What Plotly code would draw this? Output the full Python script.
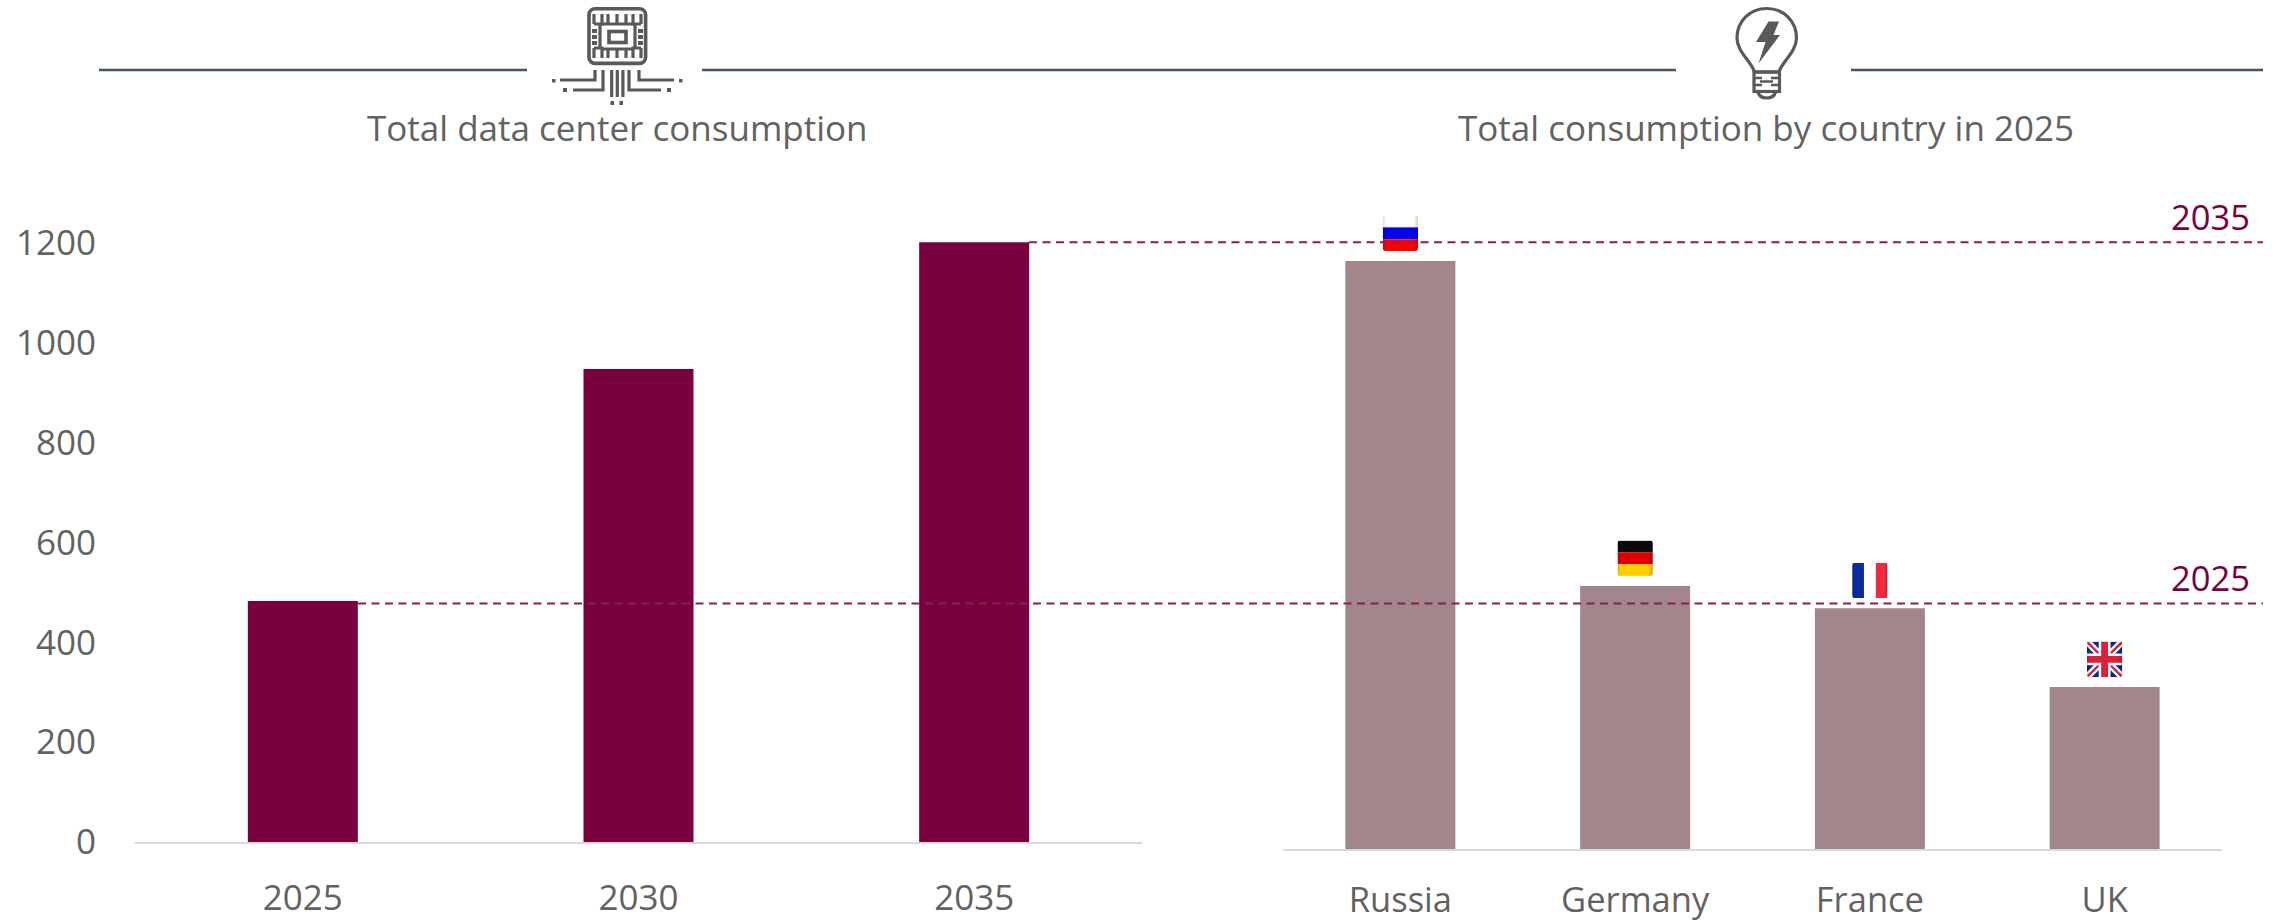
import base64
import plotly.graph_objects as go

# ---- data ----
years = ["2025", "2030", "2035"]
dc_values = [483, 948, 1202]
countries = ["Russia", "Germany", "France", "UK"]
country_values = [1162, 520, 476, 320]
y_ticks = [0, 200, 400, 600, 800, 1000, 1200]
guide_years = ["2025", "2035"]
guide_values = [478, 1202]
title_left = "Total data center consumption"
title_right = "Total consumption by country in 2025"

# ---- style ----
W, H = 2280, 922
FONT = "Open Sans"
TEXT = "#626262"
MAROON = "#78003C"
MUTED = "#A3858C"
DASH = "#8A1F58"
HEAD = "#44546A"
AXIS = "#D9D9D9"
WEIGHT = 400


def uri(svg):
    return "data:image/svg+xml;base64," + base64.b64encode(svg.encode()).decode()


def px(x):
    return x / W


def py(y):
    return 1 - y / H


CHIP = f'''<svg xmlns="http://www.w3.org/2000/svg" viewBox="0 0 170 110" width="510" height="330">
<g fill="none" stroke="#595959" stroke-width="3.6">
<rect x="49" y="8.8" width="56.6" height="54.6" rx="6"/>
<rect x="69" y="31.5" width="17" height="11"/>
<path d="M54 24V14M54 24H62V14" stroke-width="3.2"/>
<path d="M101 24V14M101 24H93V14" stroke-width="3.2"/>
<path d="M68 24V14M77 24V14M86 24V14" stroke-width="3.2"/>
<path d="M62 24H93M62 49H93" stroke-width="3.2"/>
<path d="M54 48V58M54 48H62V58M101 48V58M101 48H93V58" stroke-width="3.2"/>
<path d="M68 49V58M77 49V58M86 49V58" stroke-width="3.2"/>
<path d="M60 24V49M95 24V49" stroke-width="3.2"/>
<path d="M20 80H55V70M33 90H63V70M134 80H99V70M121 90H89V70" stroke-width="3.2"/>
<path d="M71.7 70V97M77.3 70V97M82.9 70V97" stroke-width="3.2"/>
</g>
<g fill="#595959">
<rect x="52" y="29" width="5" height="4"/><rect x="52" y="35" width="5" height="4"/><rect x="52" y="41" width="5" height="4"/>
<rect x="98" y="29" width="5" height="4"/><rect x="98" y="35" width="5" height="4"/><rect x="98" y="41" width="5" height="4"/>
<rect x="12" y="79" width="3.5" height="3.5"/><rect x="23" y="88" width="4" height="4"/>
<rect x="139" y="79" width="3.5" height="3.5"/><rect x="127" y="88" width="4" height="4"/>
<rect x="70.5" y="101" width="3.5" height="4"/><rect x="79.5" y="101" width="3.5" height="4"/>
</g></svg>'''

BULB = f'''<svg xmlns="http://www.w3.org/2000/svg" viewBox="0 0 130 110" width="390" height="330">
<g fill="none" stroke="#595959" stroke-width="3.2">
<path d="M54.5 72C52 62 37 52 37 38C37 21 50 8.5 66.7 8.5C83.4 8.5 96.5 21 96.5 38C96.5 52 81.5 62 79 72Z"/>
<rect x="54" y="72" width="25.5" height="19.5"/>
<path d="M58 92C59 96 62 98 66.7 98C71 98 74.5 96 75.5 92"/>
<path d="M54 78H62M71 78H79.5M54 85H62M71 85H79.5M60 81.5H73" stroke-width="2.6"/>
</g>
<polygon fill="#595959" points="68.5,21.5 79,21.5 73.5,35 80,35 58.5,63.5 65.5,42 56,42"/>
</svg>'''


def flag(inner):
    return uri(f'''<svg xmlns="http://www.w3.org/2000/svg" viewBox="0 0 36 36" width="144" height="144" preserveAspectRatio="none">
<defs><clipPath id="c"><rect width="36" height="36" rx="3"/></clipPath>
<linearGradient id="g" x1="0" y1="0" x2="1" y2="0"><stop offset="0" stop-color="#000" stop-opacity=".14"/><stop offset=".1" stop-color="#000" stop-opacity="0"/><stop offset=".88" stop-color="#000" stop-opacity="0"/><stop offset="1" stop-color="#000" stop-opacity=".2"/></linearGradient></defs>
<g clip-path="url(#c)">{inner}<rect width="36" height="36" fill="url(#g)"/></g></svg>''')


FLAG_SVG = [
    flag('<rect width="36" height="12" fill="#FFFFFF"/><rect y="12" width="36" height="12" fill="#0000F0"/><rect y="24" width="36" height="12" fill="#FF0000"/>'),
    flag('<rect width="36" height="12" fill="#0A0A0A"/><rect y="12" width="36" height="12" fill="#DD0000"/><rect y="24" width="36" height="12" fill="#FFCE00"/>'),
    flag('<rect width="12" height="36" fill="#0A2A9E"/><rect x="12" width="12" height="36" fill="#FFFFFF"/><rect x="24" width="12" height="36" fill="#F42B40"/>'),
    flag('<rect width="36" height="36" fill="#0A2A7E"/><path d="M0 0L36 36M36 0L0 36" stroke="#fff" stroke-width="7"/><path d="M0 0L36 36M36 0L0 36" stroke="#D9213C" stroke-width="2.4"/><path d="M18 0V36M0 18H36" stroke="#fff" stroke-width="12"/><path d="M18 0V36M0 18H36" stroke="#D9213C" stroke-width="7"/>'),
]

fig = go.Figure()
fig.add_trace(go.Bar(x=years, y=dc_values, marker=dict(color=MAROON, line_width=0),
                     xaxis="x", yaxis="y", showlegend=False, width=110 / 335.67))
fig.add_trace(go.Bar(x=countries, y=country_values, marker=dict(color=MUTED, line_width=0),
                     xaxis="x2", yaxis="y2", showlegend=False, width=110 / 234.75))

shapes = []
for x0, x1 in [(99, 527), (702, 1676), (1851, 2263)]:
    shapes.append(dict(type="line", xref="paper", yref="paper", x0=px(x0), x1=px(x1),
                       y0=py(70), y1=py(70), line=dict(color=HEAD, width=2.4)))

for v, x0 in zip(guide_values, [358, 1029]):
    shapes.append(dict(type="line", xref="paper", yref="y", x0=px(x0), x1=px(2263),
                       y0=v, y1=v, line=dict(color=DASH, width=2, dash="8px,5.5px")))

annotations = []
for txt, cx, cy in [(title_left, 617, 127), (title_right, 1766, 128)]:
    annotations.append(dict(text=txt, xref="paper", yref="paper", x=px(cx), y=py(cy),
                            xanchor="center", yanchor="middle", showarrow=False,
                            font=dict(family=FONT, size=35, color=TEXT, weight=WEIGHT)))
for txt, v in zip(guide_years, guide_values):
    annotations.append(dict(text=txt, xref="paper", yref="y", x=px(2252), y=v, yshift=26,
                            xanchor="right", yanchor="middle", showarrow=False,
                            font=dict(family=FONT, size=34.5, color=MAROON, weight=WEIGHT)))

images = [
    dict(source=uri(CHIP), xref="paper", yref="paper", x=px(540), y=1, sizex=px(170), sizey=110 / H,
         xanchor="left", yanchor="top", sizing="stretch", layer="above"),
    dict(source=uri(BULB), xref="paper", yref="paper", x=px(1700), y=1, sizex=px(130), sizey=110 / H,
         xanchor="left", yanchor="top", sizing="stretch", layer="above"),
]
R_SCALE = 0.506   # px per unit on the right axis
for i, (src, v) in enumerate(zip(FLAG_SVG, country_values)):
    images.append(dict(source=src, xref="x2", yref="y2", x=i, y=v + 10 / R_SCALE,
                       sizex=35.5 / 234.75, sizey=35.5 / R_SCALE, xanchor="center", yanchor="bottom",
                       sizing="stretch", layer="above"))

num_font = dict(family=FONT, size=35, color=TEXT, weight=WEIGHT)
cat_font = dict(family=FONT, size=34.5, color=TEXT, weight=WEIGHT)
fig.update_layout(
    width=W, height=H, autosize=False,
    margin=dict(l=0, r=0, t=0, b=0, autoexpand=False),
    paper_bgcolor="white", plot_bgcolor="white",
    barmode="group", showlegend=False,
    shapes=shapes, annotations=annotations, images=images,
    xaxis=dict(domain=[px(135), px(1142)], anchor="y", type="category", showgrid=False, automargin=False,
               showline=True, linecolor=AXIS, linewidth=2, ticks="", tickfont=num_font,
               ticklabelstandoff=24, zeroline=False),
    yaxis=dict(domain=[py(842), py(142)], anchor="x", range=[0, 700 / 0.499], tickvals=y_ticks, automargin=False,
               showgrid=False, showline=False, zeroline=False, ticks="", tickfont=num_font,
               ticklabelstandoff=38),
    xaxis2=dict(domain=[px(1283), px(2222)], anchor="y2", type="category", showgrid=False, automargin=False,
                showline=True, linecolor=AXIS, linewidth=2, ticks="", tickfont=cat_font,
                ticklabelstandoff=20, zeroline=False),
    yaxis2=dict(domain=[py(849), py(141)], anchor="x2", range=[0, 708 / R_SCALE], automargin=False,
                showgrid=False, showline=False, zeroline=False, showticklabels=False, ticks=""),
)

fig.write_html("out.html", config={"displayModeBar": False, "responsive": False},
               post_script="document.body.style.margin='0';document.body.style.overflow='hidden';")
